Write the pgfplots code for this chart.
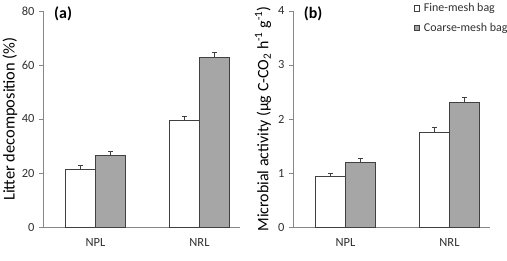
\documentclass[border=0pt]{standalone}
\usepackage{fontspec}
\setmainfont{Carlito}
\usepackage{pgfplots}
\pgfplotsset{compat=1.18}

\definecolor{axisgray}{HTML}{878787}
\definecolor{edgegray}{HTML}{404040}
\definecolor{barfill}{HTML}{A6A6A6}
\definecolor{txtgray}{HTML}{303030}

\pgfplotsset{
  panel/.style={
    scale only axis, width=197bp, height=216bp,
    axis x line*=bottom, axis y line*=left,
    axis line style={draw=axisgray, line width=0.8bp, -},
    xmin=-0.505, xmax=1.39, ymin=0,
    xtick={0,1}, xticklabels={NPL,NRL},
    major x tick style={draw=none},
    major y tick style={draw=axisgray, line width=0.8bp},
    tick align=outside, major tick length=4bp,
    minor tick num=0,
    /pgf/number format/assume math mode=true,
    ticklabel style={font=\fontsize{12.5}{12.5}\selectfont, text=txtgray},
    yticklabel style={xshift=-1bp},
    xticklabel style={yshift=-4bp},
    ylabel style={font=\fontsize{16.5}{16.5}\selectfont, anchor=center},
    ybar=0pt, bar width=0.29,
    clip=false,
  },
  errstyle/.style={
    /pgfplots/error bars/y dir=plus,
    /pgfplots/error bars/y explicit,
    /pgfplots/error bars/error bar style={draw=edgegray, line width=0.8bp},
    /pgfplots/error bars/error mark options={rotate=90, draw=edgegray, mark size=2.2bp, line width=0.8bp}},
  sqlegend/.style={/pgfplots/legend image code/.code={
    \draw[##1, line width=0.6bp] (0bp,-2.8bp) rectangle (5.6bp,2.8bp);}},
  finebar/.style={fill=white, draw=edgegray, line width=0.9bp, errstyle, sqlegend},
  coarsebar/.style={fill=barfill, draw=edgegray, line width=0.9bp, errstyle, sqlegend},
}

\begin{document}
\begin{tikzpicture}[x=1bp,y=1bp]
\useasboundingbox (0,0) rectangle (507,260);

% (a) litter mass loss
\begin{axis}[panel, at={(43bp,33bp)}, anchor=south west,
  ymax=80, ytick={0,20,40,60,80},
  ylabel={Litter decomposition (\%)},
  every axis y label/.append style={at={(axis description cs:-0.1675,0.5)}}]
\addplot[finebar] coordinates {(0,21.4) +- (0,1.3) (1,39.6) +- (0,1.4)};
\addplot[coarsebar] coordinates {(0,26.4) +- (0,1.6) (1,62.8) +- (0,1.9)};
\node[font=\bfseries\fontsize{16}{16}\selectfont, anchor=center]
  at (axis description cs:0.102,0.985) {(a)};
\end{axis}

% (b) microbial respiration
\begin{axis}[panel, at={(293bp,33bp)}, anchor=south west,
  ymax=4, ytick={0,1,2,3,4},
  ylabel={Microbial activity (μg C-CO\textsubscript{2} h\textsuperscript{-1} g\textsuperscript{-1})},
  ylabel style={font=\fontsize{16}{16}\selectfont},
  every axis y label/.append style={at={(axis description cs:-0.152,0.5)}},
  legend style={at={(axis description cs:0.612,1.045)}, anchor=north west,
    draw=none, fill=none, inner sep=0pt,
    font=\fontsize{12}{12}\selectfont, text=txtgray,
    row sep=5.5bp, legend cell align=left,
    /tikz/every odd column/.append style={column sep=2bp}},
  ]
\addplot[finebar] coordinates {(0,0.93) +- (0,0.06) (1,1.75) +- (0,0.10)};
\addlegendentry{Fine-mesh bag}
\addplot[coarsebar] coordinates {(0,1.20) +- (0,0.07) (1,2.31) +- (0,0.09)};
\addlegendentry{Coarse-mesh bag}
\node[font=\bfseries\fontsize{16}{16}\selectfont, anchor=center]
  at (axis description cs:0.102,0.985) {(b)};
\end{axis}
\end{tikzpicture}
\end{document}
